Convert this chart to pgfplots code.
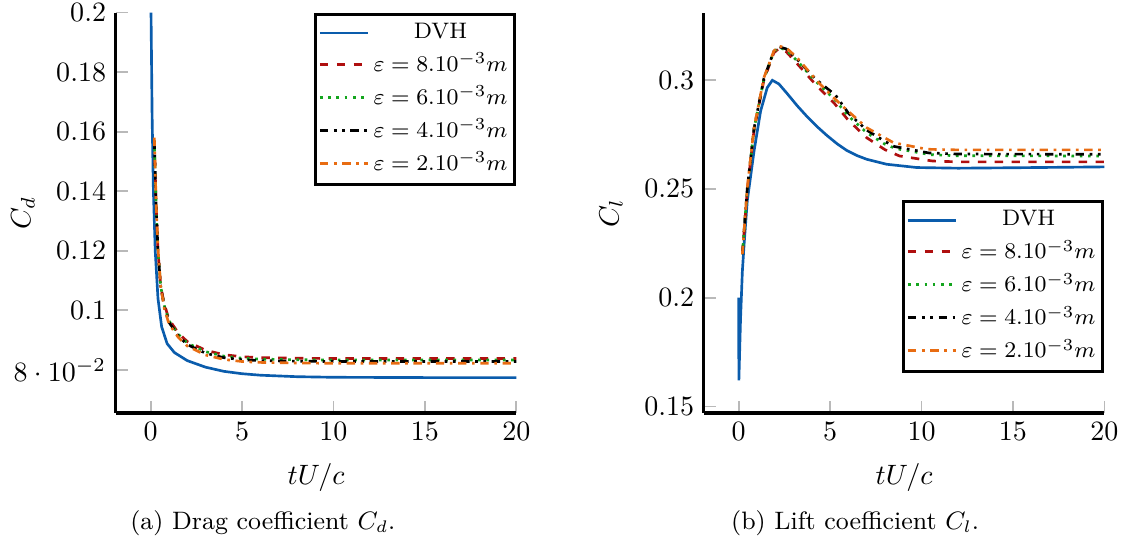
\documentclass[border=0pt]{standalone}
\usepackage{pgfplots}
\pgfplotsset{compat=1.18}
\definecolor{cblue}{RGB}{10,92,172}
\definecolor{cred}{RGB}{175,15,15}
\definecolor{cgreen}{RGB}{20,165,30}
\definecolor{corange}{RGB}{232,108,18}
\pgfplotsset{
  myax/.style={
    scale only axis, width=143pt, height=143pt,
    axis lines=left, axis line style={-, line width=1.1pt},
    tick align=inside, tick style={gray!55, line width=0.6pt},
    xmin=-1.9, xmax=20, xtick={0,5,10,15,20},
    xlabel={$tU/c$},
    xlabel style={at={(axis description cs:0.5,-0.162)}, anchor=center},
    ylabel style={at={(axis description cs:-0.232,0.5)}, anchor=center},
    legend cell align=center,
    legend style={draw=black, line width=1.1pt, font=\footnotesize,
      inner xsep=1pt, inner ysep=1.5pt, nodes={inner xsep=1.6pt, inner ysep=1.8pt}},
  },
  pdvh/.style={cblue, line width=0.95pt, solid},
  p8/.style={cred, line width=0.95pt, dash pattern=on 3pt off 3pt},
  p6/.style={cgreen, line width=0.95pt, dash pattern=on 0.95pt off 2pt},
  p4/.style={black, line width=0.95pt, dash pattern=on 3pt off 2pt on 0.95pt off 2pt on 0.95pt off 2pt},
  p2/.style={corange, line width=0.95pt, dash pattern=on 3pt off 2pt on 0.95pt off 2pt},
}
\begin{document}
\begin{tikzpicture}
\begin{axis}[myax,
  ymin=0.0655, ymax=0.2,
  ytick={0.08,0.1,0.12,0.14,0.16,0.18,0.2},
  ylabel={$C_d$},
  legend style={at={(1,1)}, anchor=north east},
]
\addplot[pdvh] coordinates {(0.02,0.2) (0.08,0.165) (0.15,0.14) (0.25,0.12) (0.4,0.104) (0.6,0.0945) (0.9,0.0888) (1.3,0.0858) (2,0.0831) (3,0.0809) (4,0.0795) (5,0.0787) (6,0.0782) (8,0.0777) (10,0.0775) (15,0.0774) (20,0.0774)};
\addlegendentry{DVH}
\addplot[p8] coordinates {(0.2,0.157) (0.3,0.135) (0.4,0.12) (0.55,0.108) (0.75,0.102) (1,0.097) (1.5,0.0925) (2,0.0895) (3,0.0866) (4,0.0851) (5,0.0844) (6,0.0841) (8,0.0839) (10,0.0838) (20,0.0838)};
\addlegendentry{$\varepsilon=8.10^{-3}m$}
\addplot[p6] coordinates {(0.2,0.157) (0.3,0.135) (0.4,0.12) (0.55,0.108) (0.75,0.1015) (1,0.0965) (1.5,0.092) (2,0.089) (3,0.0861) (4,0.0846) (5,0.0839) (6,0.0836) (8,0.0834) (10,0.0833) (20,0.0833)};
\addlegendentry{$\varepsilon=6.10^{-3}m$}
\addplot[p4] coordinates {(0.2,0.157) (0.3,0.135) (0.4,0.12) (0.55,0.108) (0.75,0.101) (1,0.096) (1.5,0.0915) (2,0.0885) (3,0.0856) (4,0.0841) (5,0.0834) (6,0.0831) (8,0.0829) (10,0.0828) (20,0.0828)};
\addlegendentry{$\varepsilon=4.10^{-3}m$}
\addplot[p2] coordinates {(0.2,0.158) (0.3,0.136) (0.4,0.121) (0.55,0.108) (0.75,0.1005) (1,0.0955) (1.5,0.091) (2,0.088) (3,0.085) (4,0.0835) (5,0.0828) (6,0.0825) (8,0.0823) (10,0.0822) (20,0.0822)};
\addlegendentry{$\varepsilon=2.10^{-3}m$}
\end{axis}
\begin{axis}[myax, at={(210pt,0)},
  ymin=0.147, ymax=0.331,
  ytick={0.15,0.2,0.25,0.3},
  ylabel={$C_l$},
  legend style={at={(1,0.1)}, anchor=south east},
]
\addplot[pdvh] coordinates {(0,0.2) (0.01,0.162) (0.1,0.19) (0.2,0.212) (0.3,0.225) (0.47,0.2445) (0.84,0.2674) (1.2,0.2858) (1.56,0.2965) (1.84,0.2999) (2.2,0.2982) (2.65,0.2938) (3.2,0.2882) (3.74,0.2832) (4.3,0.2785) (4.83,0.2745) (5.4,0.2706) (5.92,0.2676) (6.5,0.2652) (7,0.2636) (8.1,0.2613) (9.74,0.2598) (12,0.2595) (15,0.2597) (20,0.2601)};
\addlegendentry{DVH}
\addplot[p8] coordinates {(0.2,0.22) (0.47,0.2495) (0.84,0.277) (1.38,0.3) (1.92,0.3125) (2.2,0.3145) (2.6,0.313) (3.2,0.3075) (4.2,0.298) (5.2,0.2896) (6,0.2815) (7,0.2735) (8,0.268) (8.8,0.2651) (10.6,0.2628) (12,0.2624) (20,0.2624)};
\addlegendentry{$\varepsilon=8.10^{-3}m$}
\addplot[p6] coordinates {(0.2,0.22) (0.47,0.25) (0.84,0.2775) (1.38,0.3005) (1.92,0.313) (2.2,0.315) (2.6,0.3138) (3.2,0.3088) (4.2,0.2995) (5.2,0.2915) (6,0.2835) (7,0.2758) (8,0.2705) (8.6,0.2685) (10.5,0.2657) (12,0.2652) (20,0.2651)};
\addlegendentry{$\varepsilon=6.10^{-3}m$}
\addplot[p4] coordinates {(0.2,0.22) (0.47,0.2503) (0.84,0.2778) (1.38,0.3008) (1.92,0.3132) (2.2,0.3153) (2.6,0.3143) (3.2,0.3095) (4.2,0.3005) (5.3,0.293) (6,0.2848) (7,0.277) (8,0.2718) (8.5,0.2695) (10.4,0.2665) (12,0.266) (20,0.2659)};
\addlegendentry{$\varepsilon=4.10^{-3}m$}
\addplot[p2] coordinates {(0.2,0.22) (0.47,0.2506) (0.84,0.2781) (1.38,0.3011) (1.92,0.3133) (2.2,0.3156) (2.6,0.3148) (3.2,0.3102) (4.29,0.2995) (5.56,0.2889) (7,0.2781) (8.47,0.2712) (10.3,0.2682) (12,0.2679) (20,0.2679)};
\addlegendentry{$\varepsilon=2.10^{-3}m$}
\end{axis}
\node[font=\small] at (52.5pt,-39.3pt) {(a) Drag coefficient $C_d$.};
\node[font=\small] at (264pt,-39.3pt) {(b) Lift coefficient $C_l$.};
\pgfresetboundingbox
\useasboundingbox (-41.4pt,-47.1pt) rectangle (364.3pt,147.5pt);
\end{tikzpicture}
\end{document}
